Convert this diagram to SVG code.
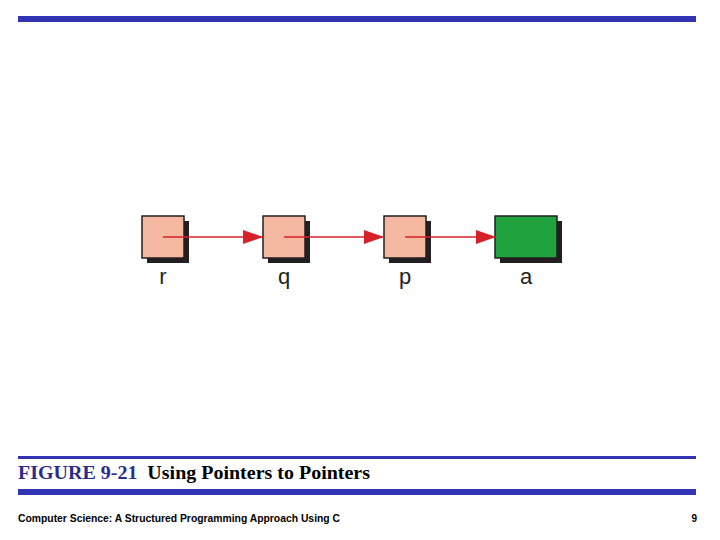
<svg xmlns="http://www.w3.org/2000/svg" width="720" height="540" viewBox="0 0 720 540">
<style>
.shadow{fill:#231f20}
.ptr{fill:#f5b9a2;stroke:#231f20;stroke-width:1.5}
.var{fill:#20a33f;stroke:#231f20;stroke-width:1.5}
.lbl{font-family:"Liberation Sans",Arial,sans-serif;font-size:22px;fill:#231f20;text-anchor:middle}
.conn{stroke:#d7212a;stroke-width:1.3;fill:none}
.bar{fill:#3333b5}
</style>
<defs>
<marker id="ah" markerUnits="userSpaceOnUse" markerWidth="20" markerHeight="14" refX="20" refY="7" orient="auto">
<path d="M0,0 L20,7 L0,14 Z" fill="#d7212a"/>
</marker>
</defs>
<rect class="bar" x="18" y="16" width="678" height="6"/>
<g id="node-r">
<rect class="shadow" x="147" y="221" width="42" height="42"/>
<rect class="ptr" x="142" y="216" width="42" height="42"/>
<text class="lbl" x="163" y="284">r</text>
</g>
<g id="node-q">
<rect class="shadow" x="268" y="221" width="42" height="42"/>
<rect class="ptr" x="263" y="216" width="42" height="42"/>
<text class="lbl" x="284" y="284">q</text>
</g>
<g id="node-p">
<rect class="shadow" x="389" y="221" width="42" height="42"/>
<rect class="ptr" x="384" y="216" width="42" height="42"/>
<text class="lbl" x="405" y="284">p</text>
</g>
<g id="node-a">
<rect class="shadow" x="500" y="221" width="62" height="42"/>
<rect class="var" x="495" y="216" width="62" height="42"/>
<text class="lbl" x="526" y="284">a</text>
</g>
<g id="connectors">
<line class="conn" x1="163" y1="237" x2="263" y2="237" marker-end="url(#ah)"/>
<line class="conn" x1="284" y1="237" x2="384" y2="237" marker-end="url(#ah)"/>
<line class="conn" x1="405" y1="237" x2="496" y2="237" marker-end="url(#ah)"/>
</g>
<rect class="bar" x="18" y="456" width="678" height="3"/>
<text x="18" y="479" font-family="Liberation Serif,'Times New Roman',serif" font-weight="bold" font-size="18" textLength="352" lengthAdjust="spacingAndGlyphs"><tspan fill="#2b2b8c">FIGURE 9-21</tspan><tspan fill="#000" dx="9">Using Pointers to Pointers</tspan></text>
<rect class="bar" x="18" y="489" width="678" height="6"/>
<text x="18" y="522" font-family="Liberation Sans,Arial,sans-serif" font-weight="bold" font-size="10" fill="#000" textLength="322" lengthAdjust="spacingAndGlyphs">Computer Science: A Structured Programming Approach Using C</text>
<text x="697" y="522" font-family="Liberation Sans,Arial,sans-serif" font-weight="bold" font-size="10" fill="#000" text-anchor="end">9</text>
</svg>
